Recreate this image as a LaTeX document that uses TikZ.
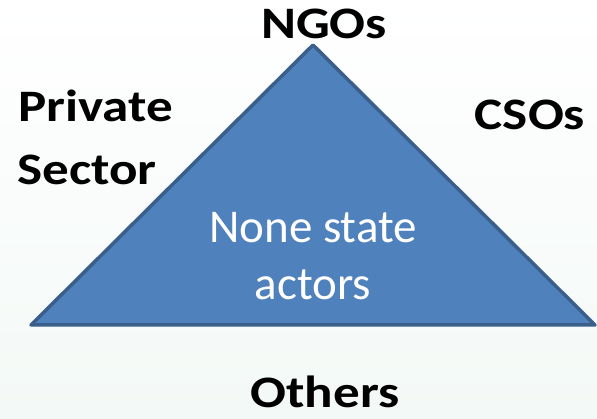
\documentclass[tikz,border=0pt]{standalone}
\usepackage{graphicx}
\usepackage{fontspec}
\setmainfont{Carlito}
\definecolor{trifill}{RGB}{79,129,189}
\definecolor{triedge}{RGB}{58,95,139}
\definecolor{bgbottom}{RGB}{243,249,246}
\newcommand{\widetxt}[1]{\scalebox{1.18}[1]{#1}}
\tikzset{
  lbl/.style={font=\fontsize{45}{54}\selectfont\bfseries, text=black, inner sep=0pt, anchor=base},
  innertxt/.style={font=\fontsize{47}{57}\selectfont, text=white, inner sep=0pt, align=center, anchor=base}
}
\begin{document}
\begin{tikzpicture}[x=1pt,y=-1pt]
\useasboundingbox (0,0) rectangle (597,419);
\shade[top color=white, bottom color=bgbottom] (0,0) rectangle (597,419);
\coordinate (apex) at (313,45);
\coordinate (bl) at (31,325);
\coordinate (br) at (595,325);
\draw[fill=trifill, draw=triedge, line width=3.5pt, line join=round] (apex) -- (br) -- (bl) -- cycle;
\node[lbl] (ngo) at (324,39) {\widetxt{NGOs}};
\node[lbl, anchor=base west] (priv) at (18,122) {\widetxt{Private}};
\node[lbl, anchor=base west] (sect) at (17,185) {\widetxt{Sector}};
\node[lbl] (cso) at (530,130) {\widetxt{CSOs}};
\node[innertxt] (nsa1) at (313,243) {None state};
\node[innertxt] (nsa2) at (313,300) {actors};
\node[lbl] (oth) at (325,407) {\widetxt{Others}};
\end{tikzpicture}
\end{document}
